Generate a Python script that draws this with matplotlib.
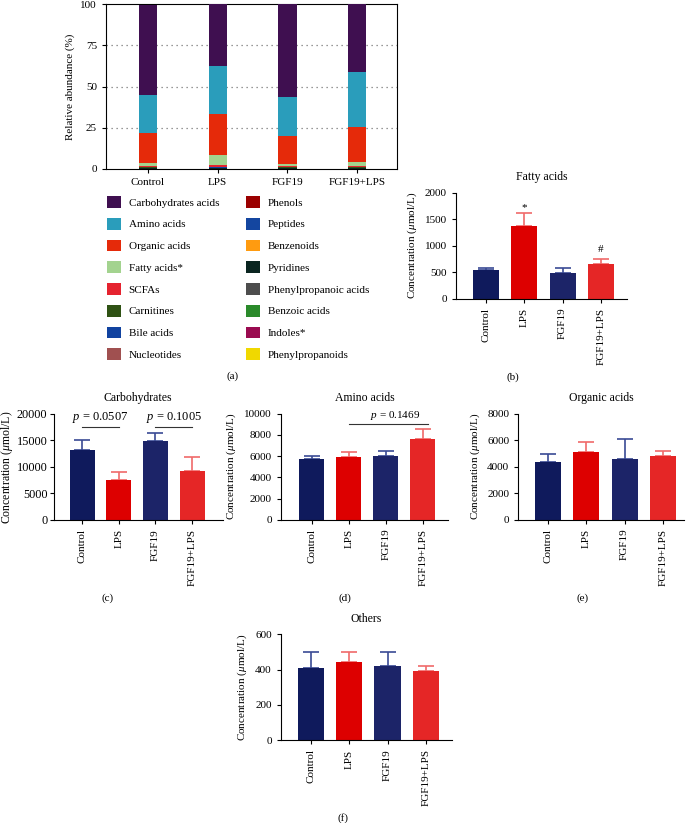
import numpy as np
import matplotlib
matplotlib.use("Agg")
import matplotlib.pyplot as plt
from matplotlib.patches import Patch

plt.rcParams['font.family'] = ['Liberation Serif', 'DejaVu Serif']
plt.rcParams['mathtext.fontset'] = 'custom'
plt.rcParams['mathtext.rm'] = 'Liberation Serif'
plt.rcParams['mathtext.it'] = 'Liberation Serif:italic'

groups = ["Control", "LPS", "FGF19", "FGF19+LPS"]

# (a) relative abundance (%), one list per class, order = legend order (top of stack first)
classes = ["Carbohydrates acids", "Amino acids", "Organic acids", "Fatty acids*", "SCFAs",
           "Carnitines", "Bile acids", "Nucleotides", "Phenols", "Peptides", "Benzenoids",
           "Pyridines", "Phenylpropanoic acids", "Benzoic acids", "Indoles*", "Phenylpropanoids"]
class_colors = ["#3f0f50", "#2a9dbb", "#e52a0a", "#a3d38f", "#e5232f", "#2f5214", "#1143a0",
                "#a05050", "#9b0000", "#1446a0", "#ff9b10", "#0a2520", "#4d4d4d", "#2a8a2a",
                "#9a0b50", "#f0d800"]
abund = [
    [54.4, 37.6, 56.6, 41.2],   # Carbohydrates acids
    [23.4, 29.1, 23.2, 33.3],   # Amino acids
    [18.0, 24.9, 17.2, 21.3],   # Organic acids
    [1.9, 6.15, 1.2, 2.4],      # Fatty acids
    [0.3, 1.0, 0.6, 0.3],       # SCFAs
    [0.5, 0.3, 0.4, 0.6],       # Carnitines
    [0.1, 0.1, 0.1, 0.1],       # Bile acids
    [0.1, 0.1, 0.1, 0.1],       # Nucleotides
    [0.1, 0.2, 0.1, 0.1],       # Phenols
    [0.05, 0.05, 0.05, 0.05],   # Peptides
    [0.05, 0.05, 0.05, 0.05],   # Benzenoids
    [0.3, 0.2, 0.2, 0.3],       # Pyridines
    [0.05, 0.05, 0.05, 0.05],   # Phenylpropanoic acids
    [0.05, 0.05, 0.05, 0.05],   # Benzoic acids
    [0.05, 0.1, 0.05, 0.05],    # Indoles
    [0.05, 0.05, 0.05, 0.05],   # Phenylpropanoids
]

# concentrations (umol/L): mean and SD
fatty_mean = [550, 1380, 480, 650]
fatty_sd = [25, 230, 100, 100]
carb_mean = [13100, 7600, 14800, 9300]
carb_sd = [2000, 1400, 1600, 2600]
amino_mean = [5700, 5950, 6050, 7600]
amino_sd = [300, 450, 400, 950]
organic_mean = [4330, 5130, 4550, 4780]
organic_sd = [650, 700, 1550, 420]
others_mean = [408, 443, 423, 390]
others_sd = [92, 55, 75, 32]

bar_colors = ["#0f1a5c", "#dd0000", "#1c2468", "#e52626"]
err_colors = ["#3a4a95", "#f06a6a", "#3a4a95", "#f06a6a"]

W, H = 690, 823
fig = plt.figure(figsize=(W / 100, H / 100), dpi=100)


def ax_px(l, t, r, b):
    return fig.add_axes([l / W, 1 - b / H, (r - l) / W, (b - t) / H])


ylab = r"Concentration ($\mathit{\mu}$mol/L)"

# ---------- (a) stacked bars ----------
ax = ax_px(106, 4, 397, 169)
x = np.arange(len(groups))
bottom = np.zeros(len(groups))
for vals, col in list(zip(abund, class_colors))[::-1]:
    ax.bar(x, vals, 0.26, bottom=bottom, color=col, zorder=3)
    bottom += np.array(vals)
for yy in [25, 50, 75]:
    ax.axhline(yy, color="#777777", ls=(0, (1, 3)), lw=0.9, zorder=1)
ax.set_xlim(-0.6, 3.57)
ax.set_ylim(0, 100)
ax.set_yticks([0, 25, 50, 75, 100])
ax.set_xticks(x)
ax.set_xticklabels(groups)
ax.tick_params(labelsize=8, length=3, width=0.8)
ax.set_ylabel("Relative abundance (%)", fontsize=8)
for s in ax.spines.values():
    s.set_linewidth(0.8)

handles = [Patch(facecolor=c) for c in class_colors]
leg = fig.legend(handles, classes, ncol=2, loc="upper left",
                 bbox_to_anchor=(97 / W, 1 - 186 / H), frameon=False, fontsize=8,
                 handlelength=1.25, handleheight=1.25, handletextpad=0.7,
                 columnspacing=2.4, labelspacing=0.9)
fig.text(233 / W, 1 - 376 / H, "(a)", ha="center", va="center", fontsize=8)


# ---------- helper for simple bar panels ----------
def bar_panel(box, mean, sd, title, ymax, step, xlim, yfs=8, lab_fs=8, pad=4, tpad=3.5):
    a = ax_px(*box)
    xx = np.arange(len(groups))
    a.bar(xx, mean, 0.68, color=bar_colors, zorder=2)
    for i in range(len(groups)):
        a.errorbar(xx[i], mean[i], yerr=[[0], [sd[i]]], fmt="none", ecolor=err_colors[i],
                   elinewidth=1.2, capsize=6, capthick=1.2, zorder=1)
    a.set_ylim(0, ymax)
    a.set_yticks(np.arange(0, ymax + 1, step))
    a.set_xlim(*xlim)
    a.set_xticks(xx)
    a.set_xticklabels(groups, rotation=90, fontsize=8)
    a.spines["top"].set_visible(False)
    a.spines["right"].set_visible(False)
    a.spines["left"].set_linewidth(0.8)
    a.spines["bottom"].set_linewidth(0.8)
    a.tick_params(length=3, width=0.8)
    a.tick_params(axis="y", labelsize=yfs, pad=tpad)
    a.set_ylabel(ylab, fontsize=lab_fs, labelpad=pad)
    a.set_title(title, fontsize=8.5, pad=9)
    return a


# (b)
axb = bar_panel((456, 192.7, 627, 298.7), fatty_mean, fatty_sd, "Fatty acids", 2000, 500,
                (-0.78, 3.68))
axb.text(1, 1717, "*", ha="center", va="center", fontsize=8)
axb.text(3, 919, "#", ha="center", va="center", fontsize=8)
fig.text(513 / W, 1 - 377 / H, "(b)", ha="center", va="center", fontsize=8)

# (c)
axc = bar_panel((53.5, 413.7, 223, 520), carb_mean, carb_sd, "Carbohydrates", 20000, 5000,
                (-0.78, 3.84), yfs=8.8, lab_fs=8.5, pad=1, tpad=1.5)
for (i0, i1, txt) in [(0, 1, "0.0507"), (2, 3, "0.1005")]:
    axc.plot([i0, i1], [17500, 17500], color="#333333", lw=0.8)
    axc.text((i0 + i1) / 2, 17900, r"$\mathit{p}$ = " + txt, ha="center", va="bottom", fontsize=9)
fig.text(108 / W, 1 - 598 / H, "(c)", ha="center", va="center", fontsize=8)

# (d)
axd = bar_panel((280.7, 413.7, 448, 519.7), amino_mean, amino_sd, "Amino acids", 10000, 2000,
                (-0.84, 3.68))
axd.plot([1, 3.15], [9050, 9050], color="#333333", lw=0.8)
axd.text(2.25, 9250, r"$\mathit{p}$ = 0.1469", ha="center", va="bottom", fontsize=8)
fig.text(345 / W, 1 - 598 / H, "(d)", ha="center", va="center", fontsize=8)

# (e)
axe = bar_panel((518.3, 413.7, 684, 519.7), organic_mean, organic_sd, "Organic acids", 8000, 2000,
                (-0.78, 3.55))
fig.text(583 / W, 1 - 598 / H, "(e)", ha="center", va="center", fontsize=8)

# (f)
axf = bar_panel((280.7, 634.3, 451.7, 740.3), others_mean, others_sd, "Others", 600, 200,
                (-0.78, 3.67))
fig.text(343 / W, 1 - 818 / H, "(f)", ha="center", va="center", fontsize=8)

fig.savefig("out.png", dpi=100)
